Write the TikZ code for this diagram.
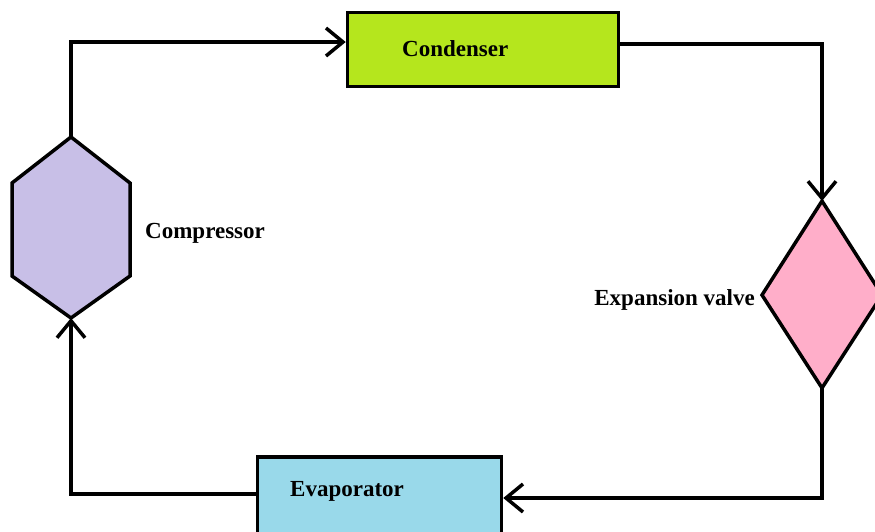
\documentclass[tikz,border=0pt]{standalone}
\usepackage{fontspec}
\setmainfont{Liberation Serif}
\usetikzlibrary{arrows.meta}
\definecolor{limec}{HTML}{B5E61D}
\definecolor{pinkc}{HTML}{FFAEC9}
\definecolor{bluec}{HTML}{99D9EA}
\definecolor{lavc}{HTML}{C8BFE7}
\tikzset{
  box/.style={draw=black, line width=3.5pt, rectangle, inner sep=0pt},
  shapeline/.style={draw=black, line width=3.5pt, line join=miter},
  lbl/.style={inner sep=0pt, font=\fontsize{23}{26}\selectfont\bfseries},
  flow/.style={draw=black, line width=3.5pt, -{Straight Barb[length=17pt,width=28pt]}}
}
\begin{document}
\begin{tikzpicture}[x=1pt,y=-1pt]
\clip (0,0) rectangle (875,531);
\fill[white] (0,0) rectangle (875,531);
% Condenser
\node[box, fill=limec, minimum width=271pt, minimum height=74pt] (cond) at (483,49.5) {};
\node[lbl, anchor=base west] (condl) at (402,56) {Condenser};
% Evaporator
\node[box, fill=bluec, minimum width=244pt, minimum height=82pt] (evap) at (379.5,498) {};
\node[lbl, anchor=base west] (evapl) at (290,496) {Evaporator};
% Compressor hexagon
\coordinate (hextop) at (71,137);
\coordinate (hexbot) at (71,318);
\path[shapeline, fill=lavc] (hextop) -- (130,183) -- (130,276) -- (hexbot) -- (12,276) -- (12,183) -- cycle;
\node[lbl, anchor=base west] (compl) at (145,238) {Compressor};
% Expansion valve diamond
\coordinate (dtop) at (822,201);
\coordinate (dbot) at (822,388);
\path[shapeline, fill=pinkc] (dtop) -- (882,295) -- (dbot) -- (762,295) -- cycle;
\node[lbl, anchor=base east] (expl) at (755,305) {Expansion valve};
% Connectors
\draw[flow] (hextop) |- ([yshift=7.5pt]cond.west);
\draw[flow] ([yshift=5.5pt]cond.east) -| (dtop);
\draw[flow] (dbot) |- (evap.east);
\draw[flow] ([yshift=4pt]evap.west) -| (hexbot);
\end{tikzpicture}
\end{document}
